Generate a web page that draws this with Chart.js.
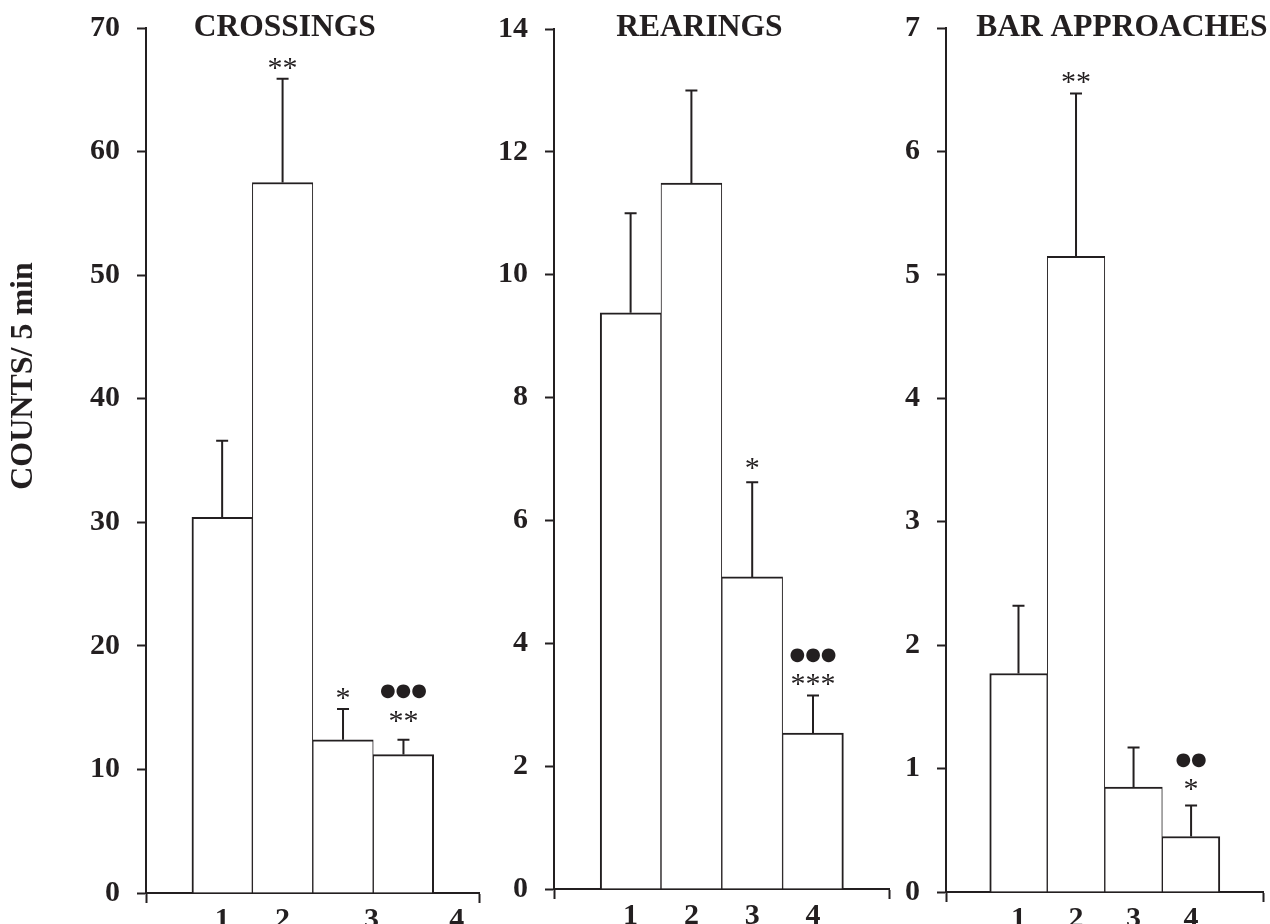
<!DOCTYPE html>
<html>
<head>
<meta charset="utf-8">
<script src="https://cdn.jsdelivr.net/npm/chart.js@4.4.1/dist/chart.umd.min.js"></script>
<style>
  html, body { margin: 0; padding: 0; background: #fff; }
  #wrap { position: relative; width: 1270px; height: 924px; overflow: hidden; }
  .panel { position: absolute; top: 0; height: 924px; }
</style>
</head>
<body>
<div id="wrap">
  <div class="panel" style="left:0;width:490px"><canvas id="crossings"></canvas></div>
  <div class="panel" style="left:490px;width:410px"><canvas id="rearings"></canvas></div>
  <div class="panel" style="left:900px;width:370px"><canvas id="approaches"></canvas></div>
</div>
<script>
// data (mean + SEM per group)
const groups = [1, 2, 3, 4];
const groupLabels = ['1', '2', '3', '4'];
const yTitle = 'COUNTS/ 5 min';

const crossingsMean = [30.4, 57.5, 12.4, 11.2];
const crossingsSem = [6.2, 8.4, 2.5, 1.2];
const crossingsMarks = [[], ['**'], ['*'], ['**', '●●●']];

const rearingsMean = [9.38, 11.49, 5.08, 2.54];
const rearingsSem = [1.62, 1.51, 1.54, 0.61];
const rearingsMarks = [[], [], ['*'], ['***', '●●●']];

const approachesMean = [1.77, 5.15, 0.85, 0.45];
const approachesSem = [0.55, 1.32, 0.32, 0.25];
const approachesMarks = [[], ['**'], [], ['*', '●●']];

const ink = '#231f20';
const serif = '"Liberation Serif", "Times New Roman", serif';

Chart.defaults.font.family = serif;
Chart.defaults.color = ink;

function makePanel(id, cfg) {
  // whiskers, significance marks and titles, all placed from the scales
  var extras = {
    id: 'extras',
    afterDatasetsDraw: function (chart) {
      var ctx = chart.ctx, y = chart.scales.y, area = chart.chartArea;
      var bars = chart.getDatasetMeta(0).data;
      ctx.save();
      ctx.strokeStyle = ink;
      ctx.fillStyle = ink;
      ctx.lineWidth = 2;
      bars.forEach(function (bar, i) {
        var top = y.getPixelForValue(cfg.mean[i] + cfg.sem[i]);
        ctx.beginPath();
        ctx.moveTo(bar.x, bar.y);
        ctx.lineTo(bar.x, top);
        ctx.moveTo(bar.x - 6, top);
        ctx.lineTo(bar.x + 6, top);
        ctx.stroke();
        ctx.textAlign = 'center';
        ctx.textBaseline = 'middle';
        cfg.marks[i].forEach(function (m, k) {
          var yy = top - 15 - cfg.lift[i] - k * 25;
          if (m.indexOf('●') >= 0) {
            ctx.font = '18px "DejaVu Sans"';
          } else {
            ctx.font = '30px ' + serif;
            yy += 5;
          }
          ctx.fillText(m, bar.x, yy);
        });
      });
      ctx.font = 'bold 31.5px ' + serif;
      ctx.textAlign = 'center';
      ctx.textBaseline = 'middle';
      ctx.fillText(cfg.title, area.left + cfg.titleAt * (area.right - area.left), 28);
      if (cfg.yTitle) {
        ctx.translate(24, 376);
        ctx.rotate(-Math.PI / 2);
        ctx.font = 'bold 32px ' + serif;
        ctx.fillText(cfg.yTitle, 0, 0);
      }
      ctx.restore();
    }
  };

  return new Chart(document.getElementById(id), {
    type: 'bar',
    data: {
      labels: groups,
      datasets: [{
        data: cfg.mean,
        backgroundColor: '#ffffff',
        borderColor: ink,
        borderWidth: function (c) {
          return { top: 2, left: c.dataIndex === 0 ? 2 : 1, right: c.dataIndex === groups.length - 1 ? 2 : 1, bottom: 0 };
        },
        borderSkipped: 'start',
        barThickness: 'flex',
        categoryPercentage: 1,
        barPercentage: 1
      }]
    },
    options: {
      responsive: true,
      maintainAspectRatio: false,
      animation: false,
      layout: { padding: { left: 0, top: cfg.padTop, right: cfg.padRight, bottom: 0 } },
      plugins: { legend: { display: false }, tooltip: { enabled: false } },
      scales: {
        x: {
          type: 'linear',
          min: -0.26,
          max: 5.25,
          offset: false,
          afterBuildTicks: function (s) {
            s.ticks = [s.min].concat(cfg.labelAt, [s.max]).map(function (v) { return { value: v }; });
          },
          afterFit: function (s) {
            s.height = cfg.xHeight;
            s.paddingLeft = 0;
            s.paddingRight = 0;
          },
          ticks: {
            autoSkip: false,
            maxRotation: 0,
            padding: -1,
            color: ink,
            font: { size: 30, weight: 'bold' },
            callback: function (v, i) {
              return i === 0 || i > groupLabels.length ? '' : groupLabels[i - 1];
            }
          },
          grid: {
            offset: false,
            drawOnChartArea: false,
            tickLength: 10,
            tickWidth: 2,
            tickColor: function (c) {
              return (c.index === 0 || c.index === c.scale.ticks.length - 1) ? ink : 'rgba(0,0,0,0)';
            }
          },
          border: { color: ink, width: 2 }
        },
        y: {
          min: 0,
          max: cfg.yMax,
          afterFit: function (s) {
            s.width = cfg.yWidth;
            s.paddingTop = 0;
            s.paddingBottom = 0;
          },
          ticks: { stepSize: cfg.yStep, padding: 17, color: ink, font: { size: 30, weight: 'bold' } },
          grid: { drawOnChartArea: false, tickLength: 9, tickWidth: 2, tickColor: ink, color: ink },
          border: { color: ink, width: 2 }
        }
      }
    },
    plugins: [extras]
  });
}

makePanel('crossings', {
  title: 'CROSSINGS', yTitle: yTitle,
  mean: crossingsMean, sem: crossingsSem, marks: crossingsMarks,
  yMax: 70, yStep: 10, labelAt: [1, 2, 3.47, 4.88],
  yWidth: 146, xHeight: 31, padTop: 28, padRight: 11, titleAt: 0.417, lift: [0, 0, 0, 8]
});

makePanel('rearings', {
  title: 'REARINGS',
  mean: rearingsMean, sem: rearingsSem, marks: rearingsMarks,
  yMax: 14, yStep: 2, labelAt: groups,
  yWidth: 64, xHeight: 35, padTop: 29, padRight: 11, titleAt: 0.434, lift: [0, 0, 3, 0]
});

makePanel('approaches', {
  title: 'BAR APPROACHES',
  mean: approachesMean, sem: approachesSem, marks: approachesMarks,
  yMax: 7, yStep: 1, labelAt: groups,
  yWidth: 46, xHeight: 32, padTop: 28, padRight: 7, titleAt: 0.555, lift: [0, 0, 0, 5]
});
</script>
</body>
</html>
